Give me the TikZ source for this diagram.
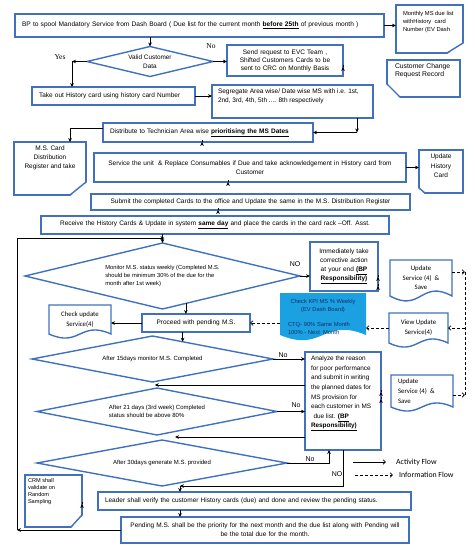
\documentclass[tikz,border=0pt]{standalone}
\usepackage{fontspec}
\setmainfont{Liberation Sans}
\newfontfamily\serfont{Liberation Serif}
\newfontfamily\calfont{Carlito}
\usetikzlibrary{calc,arrows.meta}
\pgfdeclarelayer{bg}
\pgfsetlayers{bg,main}
\definecolor{bcol}{RGB}{65,113,190}
\definecolor{kpicol}{RGB}{27,161,226}
\definecolor{kpitxt}{RGB}{25,45,105}
\newcommand{\fz}[2]{\fontsize{#1pt}{#2pt}\selectfont}
\newcommand{\tbx}[3]{\parbox[c][#2][t]{#1}{\raggedright #3}}
\newcommand{\dmd}[1]{\draw[dline] (#1.north) -- (#1.east) -- (#1.south) -- (#1.west) -- cycle;}
\newcommand{\wdoc}[2]{\draw[dline] (#1.south west) -- (#1.north west) -- (#1.north east) -- (#1.south east) .. controls ($(#1.south east)!0.5!(#1.south west)+(0,-#2)$) and ($(#1.south west)!0.5!(#1.south east)+(0,#2)$) .. (#1.south west) -- cycle;}
% corner cuts drawn over a boxed node
\newcommand{\cutse}[3]{%
  \fill[white] ([shift={(1.2pt,#3pt)}]#1.south east) -- ([shift={(-#2pt,-1.2pt)}]#1.south east) -- ([shift={(1.2pt,-1.2pt)}]#1.south east) -- cycle;
  \draw[dline, line cap=round] ([yshift=#3pt]#1.south east) -- ([xshift=-#2pt]#1.south east);}
\newcommand{\cutsw}[3]{%
  \fill[white] ([shift={(-1.2pt,#3pt)}]#1.south west) -- ([shift={(#2pt,-1.2pt)}]#1.south west) -- ([shift={(-1.2pt,-1.2pt)}]#1.south west) -- cycle;
  \draw[dline, line cap=round] ([yshift=#3pt]#1.south west) -- ([xshift=#2pt]#1.south west);}
\tikzset{
  dline/.style={draw=bcol, line width=1.4pt},
  box/.style={draw=bcol, line width=1.4pt, inner sep=0pt, outer sep=0pt},
  plain/.style={inner sep=0pt, outer sep=0pt},
  arr/.style={-{Stealth[length=4pt,width=3.6pt]}, line width=0.7pt},
  info/.style={-{Straight Barb[length=2.5pt,width=4.5pt]}, line width=0.7pt, dash pattern=on 3pt off 2pt},
  legarr/.style={-{Straight Barb[length=2.5pt,width=4.5pt]}, line width=0.7pt},
  lbl/.style={inner sep=0pt, font=\fz{7.5}{9}},
  calbl/.style={inner sep=0pt, anchor=west, font=\calfont\fz{7.8}{9}},
}
\begin{document}
\begin{tikzpicture}[x=1pt,y=-1pt]
\useasboundingbox (0,0) rectangle (474,551);

% ---------- top part ----------
\node[box, minimum width=369pt, minimum height=23pt, text width=355pt, align=left, font=\fz{6.6}{8}] (top) at (199.5,25.5)
  {BP to spool Mandatory Service from Dash Board ( Due list for the current month \textbf{\underline{before 25th}} of previous month )};
\node[box, inner xsep=7pt, inner ysep=6pt, font=\fz{5.8}{8}] (mdue) at (429.5,29)
  {\tbx{53pt}{36pt}{Monthly MS due list\\withHistory\ \ card\\Number (EV Dash}};
\cutse{mdue}{16}{10}

\node[plain, minimum width=126pt, minimum height=30pt, align=center, font=\fz{6.4}{9.5}] (valid) at (150,61.5) {Valid Customer\\Data};
\dmd{valid}

\node[box, minimum width=116pt, minimum height=31pt, text width=112pt, align=center, font=\fz{6.5}{8}] (send) at (285,60.5)
  {Send request to EVC Team ,\\Shifted Customers Cards to be\\sent to CRC on Monthly Basis};
\node[box, inner xsep=8pt, inner ysep=3.5pt, font=\fz{6.8}{8}] (crr) at (423.5,78.5)
  {\tbx{57pt}{30pt}{Customer Change\\Request Record}};
\cutsw{crr}{13}{13}

\node[box, minimum width=163pt, minimum height=18pt, text width=149pt, align=left, font=\fz{6.5}{8}] (takeout) at (113.5,96)
  {Take out History card using history card Number};
\node[box, inner xsep=6pt, inner ysep=4pt, font=\fz{6.5}{9}] (seg) at (292.5,101.5)
  {\tbx{149pt}{25pt}{Segregate Area wise/ Date wise MS with i.e. 1st,\\2nd, 3rd, 4th, 5th .... 8th respectively}};

\node[box, minimum width=210pt, minimum height=19pt, text width=196pt, align=left, font=\fz{6.5}{8}] (dist) at (208,132.5)
  {Distribute to Technician Area wise \textbf{\underline{prioritising the MS Dates}}};
\node[box, inner xsep=4pt, inner ysep=4pt, font=\fz{6.5}{9}] (mscard) at (50,168.5)
  {\tbx{64pt}{45pt}{\centering M.S. Card\\Distribution\\Register and take}};
\cutse{mscard}{16}{13}

\node[box, minimum width=312pt, minimum height=29pt, text width=300pt, align=center, font=\fz{6.5}{9}] (svc) at (250,167.5)
  {Service the unit\ \ \& Replace Consumables if Due and take acknowledgement in History card from\\Customer};
\node[box, inner xsep=2pt, inner ysep=4pt, font=\fz{6.5}{9.5}] (uhc) at (441,171.5)
  {\tbx{40pt}{35pt}{\centering Update\\History\\Card}};
\cutsw{uhc}{6}{5}

\node[box, minimum width=319pt, minimum height=16pt, text width=315pt, align=center, font=\fz{6.5}{8}] (submit) at (250.5,202)
  {Submit the completed Cards to the office and Update the same in the M.S. Distribution Register};
\node[box, minimum width=348pt, minimum height=18pt, text width=340pt, align=center, font=\fz{6.5}{8}] (receive) at (215,225)
  {Receive the History Cards \& Update in system \textbf{\underline{same day}} and place the cards in the card rack –Off. Asst.};

% ---------- monitoring part ----------
\node[plain, minimum width=275pt, minimum height=66pt, align=left, font=\fz{5.8}{7.7}] (monitor) at (162.5,276)
  {Monitor M.S. status weekly (Completed M.S.\\should be minimum 30\% of the due for the\\month after 1st week)};
\dmd{monitor}

\node[box, minimum width=68pt, minimum height=49pt, text width=66pt, align=center, font=\fz{6.5}{9}] (immed) at (344,266.5)
  {Immediately take\\corrective action\\at your end \textbf{\underline{(BP}}\\\textbf{\underline{Responsibility)}}};
\node[plain, minimum width=62pt, minimum height=36pt, align=center, font=\calfont\fz{6.8}{9.5}] (us1) at (421,278)
  {Update\\Service (4)\ \ \&\\Save};
\wdoc{us1}{17}

\node[plain, inner xsep=8pt, inner ysep=6pt, font=\fz{5.8}{8}, text=kpitxt] (kpi) at (323,314)
  {\tbx{70pt}{30pt}{\centering Check KPI MS \% Weekly\\(EV Dash Board)\par\vspace{7pt}\raggedright CTQ- 90\% Same Month\\100\% - Next\ \ Month}};
\begin{pgfonlayer}{bg}
\fill[kpicol] (kpi.south west) -- (kpi.north west) -- (kpi.north east) -- (kpi.south east) .. controls ($(kpi.south east)!0.5!(kpi.south west)+(0,-18)$) and ($(kpi.south west)!0.5!(kpi.south east)+(0,18)$) .. (kpi.south west) -- cycle;
\end{pgfonlayer}

\node[plain, minimum width=59pt, minimum height=30pt, align=center, font=\calfont\fz{6.8}{10}] (vus) at (418.5,328)
  {View Update\\Service(4)};
\wdoc{vus}{14}

\node[box, minimum width=108pt, minimum height=18pt, text width=104pt, align=center, font=\fz{6.5}{8}] (proceed) at (196,323)
  {Proceed with pending M.S.};
\node[plain, minimum width=62pt, minimum height=29pt, align=center, font=\calfont\fz{6.8}{10}] (cus) at (80,319.5)
  {Check update\\Service(4)};
\wdoc{cus}{14}

\node[plain, minimum width=241pt, minimum height=46pt, font=\fz{6}{8}] (d15) at (152.5,359)
  {After 15days monitor M.S. Completed};
\dmd{d15}

\node[box, inner xsep=6pt, inner ysep=4pt, font=\fz{6.4}{9.6}] (analyze) at (343,401)
  {\tbx{64pt}{90pt}{Analyze the reason\\for poor performance\\and submit in writing\\the planned dates for\\MS provision for\\each customer in MS\\\hspace*{2.5pt}due list. \textbf{\underline{(BP}}\\\textbf{\underline{Responsibility)}}}};
\node[plain, inner xsep=7pt, inner ysep=4pt, font=\calfont\fz{6.8}{10}] (us2) at (422,391)
  {\tbx{48pt}{24pt}{Update\\Service (4)\ \ \&\\Save}};
\wdoc{us2}{14}

\node[plain, minimum width=240pt, minimum height=47pt, align=left, font=\fz{6}{8.5}] (d21) at (157,411.5)
  {After 21 days (3rd week) Completed\\status should be above 80\%};
\dmd{d21}

\node[plain, minimum width=250pt, minimum height=46pt, font=\fz{6}{8}] (d30) at (162,463)
  {After 30days generate M.S. provided};
\dmd{d30}

\node[box, inner xsep=3pt, inner ysep=3pt, font=\fz{5.6}{7}] (crm) at (53.5,501)
  {\tbx{51pt}{46pt}{CRM shall\\validate on\\Random\\Sampling}};
\cutse{crm}{11}{12}

\node[box, minimum width=313pt, minimum height=18pt, text width=299pt, align=left, font=\fz{6.5}{8}] (leader) at (254.5,501)
  {Leader shall verify the customer History cards (due) and done and review the pending status.};
\node[box, minimum width=288pt, minimum height=26pt, text width=284pt, align=center, font=\fz{6.5}{9}] (pending) at (265,530)
  {Pending M.S. shall be the priority for the next month and the due list along with Pending will\\be the total due for the month.};

% ---------- labels ----------
\node[lbl, font=\serfont\fz{7.5}{9}] (lyes) at (60,57) {Yes};
\node[lbl, font=\serfont\fz{7.5}{9}] (lno1) at (211,46) {No};
\node[lbl, font=\fz{7}{9}] (lno2) at (295,264) {NO};
\node[lbl, font=\fz{7}{9}] (lno3) at (283,355) {No};
\node[lbl, font=\fz{7}{9}] (lno4) at (296,405) {No};
\node[lbl, font=\fz{7}{9}] (lno5) at (310,459) {No};
\node[lbl, font=\fz{7}{9}] (lno6) at (337,474) {NO};

% ---------- coordinates ----------
\coordinate (yc) at (72,61.5);
\coordinate (sc) at (357,132.5);
\coordinate (dc) at (70,128);
\coordinate (lp) at (17,238);
\coordinate (m1) at ($(monitor.south)!0.17!(monitor.east)$);
\coordinate (c15) at ($(d15.north)!0.25!(d15.east)$);
\coordinate (j1) at ($(d15.south)!0.5!(d21.north)$);
\coordinate (j2) at (175,437);
\coordinate (j3) at (180,486);
\coordinate (dv1) at (465,272);
\coordinate (dv2) at (465,395);

% ---------- activity flow ----------
\draw[arr] (top.east) -- (top.east -| mdue.west);
\draw[arr] (valid.north |- top.south) -- (valid.north);
\draw[arr] (valid.west) -- (yc);
\draw[arr] (yc) -- (yc |- takeout.north);
\draw[arr] (valid.east) -- (valid.east -| send.west);
\draw[arr] ($(send.east)+(0,6.5)$) -- ($(send.east)+(0,6.5)$ -| crr.west);
\draw[arr] (takeout.east) -- (takeout.east -| seg.west);
\draw[arr] (seg.south -| sc) -- (sc);
\draw[arr] (sc) -- (dist.east);
\draw (dist.west |- dc) -- (dc);
\draw[arr] (dc) -- (dc |- mscard.north);
\draw[arr] ($(dist.south)+(-6,0)$) -- ($(dist.south)+(-6,0)$ |- svc.north);
\draw[arr] (svc.east) -- (svc.east -| uhc.west);
\draw[arr] ($(svc.south)+(-22,0)$) -- ($(svc.south)+(-22,0)$ |- submit.north);
\draw[arr] ($(submit.south)+(-32.5,0)$) -- ($(submit.south)+(-32.5,0)$ |- receive.north);
\draw[arr] (monitor.north |- receive.south) -- (monitor.north);
\draw[arr] (pending.west) -- (pending.west -| lp);
\draw[arr] (pending.west -| lp) -- (lp) -- ($(lp -| monitor.north)+(2,0)$);
\draw[arr] (monitor.east) -- (monitor.east -| immed.west);
\draw[arr] ($(immed.east)+(0,10.5)$) -- ($(immed.east)+(0,10.5)$ -| us1.west);
\draw[arr] ($(immed.east)+(0,19.5)$ -| us1.west) -- ($(immed.east)+(0,19.5)$);
\draw[arr] (m1) -- (m1 |- proceed.north);
\draw[arr] (proceed.west) -- (proceed.west -| cus.east);
\draw[arr] (c15 |- proceed.south) -- (c15);
\draw[arr] (d15.east) -- (d15.east -| analyze.west);
\draw[arr] (analyze.west |- j1) -- (j1);
\draw[arr] ($(analyze.east)+(0,-9)$) -- ($(analyze.east)+(0,-9)$ -| us2.west);
\draw[arr] ($(analyze.east)+(0,-2)$ -| us2.west) -- ($(analyze.east)+(0,-2)$);
\draw[arr] (d21.east) -- (d21.east -| analyze.west);
\draw[arr] (analyze.west |- j2) -- (j2);
\draw[arr] (d30.east) -| ($(analyze.south)+(-14,0)$);
\draw[arr] (analyze.south) |- (j3);
\draw[arr] (j3) -- (j3 |- leader.north);
\draw[arr] ($(crm.east)+(0,3)$) -- ($(crm.east)+(0,3)$ -| leader.west);
\draw[arr] (j3 |- leader.south) -- (j3 |- pending.north);

% ---------- information flow ----------
\draw[info] (us1.east |- dv1) -- (dv1);
\draw[dash pattern=on 3pt off 2pt, line width=0.7pt] (dv1) -- (dv2);
\draw[info] (us2.east |- dv2) -- (dv2);
\draw[info] (vus.east -| dv1) -- (vus.east);
\draw[info] (vus.west) -- (vus.west -| kpi.east);
\draw[info] (kpi.west |- proceed.east) -- (proceed.east);

% ---------- legend ----------
\coordinate (la1) at (353,462);
\coordinate (la2) at (386,462);
\coordinate (li1) at (355,475);
\coordinate (li2) at (393,475);
\draw[legarr] (la1) -- (la2);
\draw[info] (li1) -- (li2);
\node[calbl] (lact) at (396,462) {Activity Flow};
\node[calbl] (linf) at (399,475) {Information Flow};
\end{tikzpicture}
\end{document}
